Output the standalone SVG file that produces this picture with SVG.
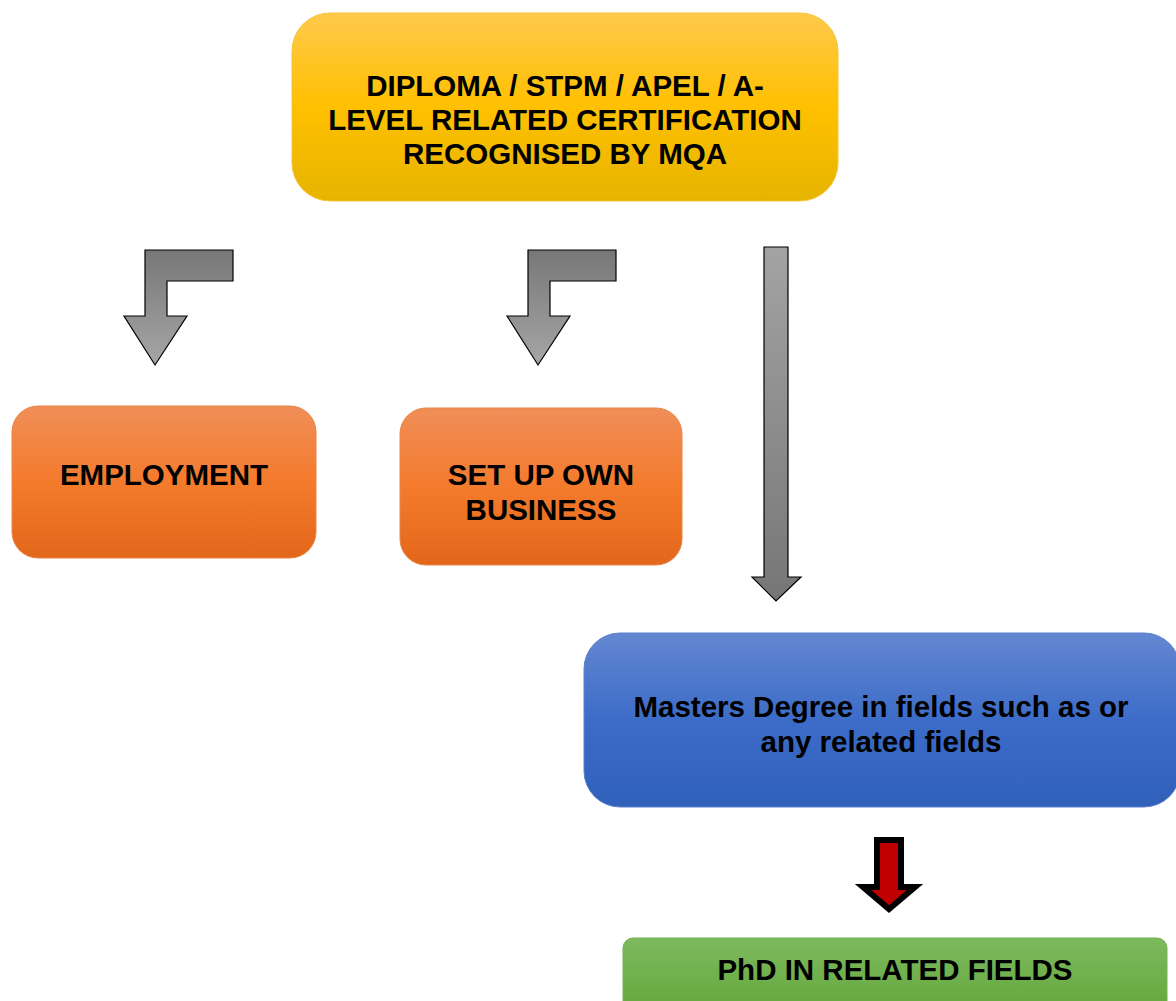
<svg xmlns="http://www.w3.org/2000/svg" width="1176" height="1001" viewBox="0 0 1176 1001">
<defs>
<linearGradient id="gY" x1="0" y1="0" x2="0" y2="1"><stop offset="0" stop-color="#FFC94C"/><stop offset="0.5" stop-color="#FFC000"/><stop offset="1" stop-color="#E6B400"/></linearGradient>
<linearGradient id="gO" x1="0" y1="0" x2="0" y2="1"><stop offset="0" stop-color="#F08E58"/><stop offset="0.5" stop-color="#F47A2C"/><stop offset="1" stop-color="#E2671A"/></linearGradient>
<linearGradient id="gB" x1="0" y1="0" x2="0" y2="1"><stop offset="0" stop-color="#6487D1"/><stop offset="0.5" stop-color="#3C6CC8"/><stop offset="1" stop-color="#2F60BA"/></linearGradient>
<linearGradient id="gG" x1="0" y1="0" x2="0" y2="1"><stop offset="0" stop-color="#7DB95E"/><stop offset="1" stop-color="#62A63A"/></linearGradient>
<linearGradient id="gBent" x1="0" y1="0" x2="0" y2="1"><stop offset="0" stop-color="#777777"/><stop offset="1" stop-color="#A6A6A6"/></linearGradient>
<linearGradient id="gDown" x1="0" y1="0" x2="0" y2="1"><stop offset="0" stop-color="#A3A3A3"/><stop offset="1" stop-color="#767676"/></linearGradient>
</defs>
<style>
text{font-family:"Liberation Sans",Arial,sans-serif;font-weight:bold;font-size:29.5px;fill:#000;text-anchor:middle}
.arr{stroke:#000;stroke-width:1.2;stroke-linejoin:miter}
</style>
<g id="certification">
<rect x="292" y="13" width="546" height="188" rx="38" fill="url(#gY)" stroke="#F5C43A" stroke-width="1"/>
<text x="565" y="96">DIPLOMA / STPM / APEL / A-</text>
<text x="565" y="130">LEVEL RELATED CERTIFICATION</text>
<text x="565" y="164">RECOGNISED BY MQA</text>
</g>
<g id="employment">
<rect x="12" y="406" width="304" height="152" rx="26" fill="url(#gO)" stroke="#EA8447" stroke-width="1"/>
<text x="164" y="485">EMPLOYMENT</text>
</g>
<g id="business">
<rect x="400" y="408" width="282" height="157" rx="26" fill="url(#gO)" stroke="#EA8447" stroke-width="1"/>
<text x="541" y="485">SET UP OWN</text>
<text x="541" y="520">BUSINESS</text>
</g>
<g id="masters">
<rect x="584" y="633" width="596" height="174" rx="36" fill="url(#gB)" stroke="#5A80CC" stroke-width="1"/>
<text x="881" y="717">Masters Degree in fields such as or</text>
<text x="881" y="752">any related fields</text>
</g>
<g id="phd">
<rect x="623" y="938" width="544" height="80" rx="10" fill="url(#gG)" stroke="#74B352" stroke-width="1"/>
<text x="895" y="980">PhD IN RELATED FIELDS</text>
</g>
<g id="connectors">
<polygon class="arr" fill="url(#gBent)" points="233,250 145,250 145,316 124,316 155,365 187,316 167,316 167,281 233,281"/>
<polygon class="arr" fill="url(#gBent)" points="616,250 528,250 528,316 507,316 538,365 570,316 550,316 550,281 616,281"/>
<polygon class="arr" fill="url(#gDown)" points="764,247 788,247 788,577 801,577 776,601 752,577 764,577"/>
<polygon fill="#C00000" stroke="#000" stroke-width="6" stroke-linejoin="miter" points="877,840 901,840 901,887 915,887 889,909 863,887 877,887"/>
</g>
</svg>
